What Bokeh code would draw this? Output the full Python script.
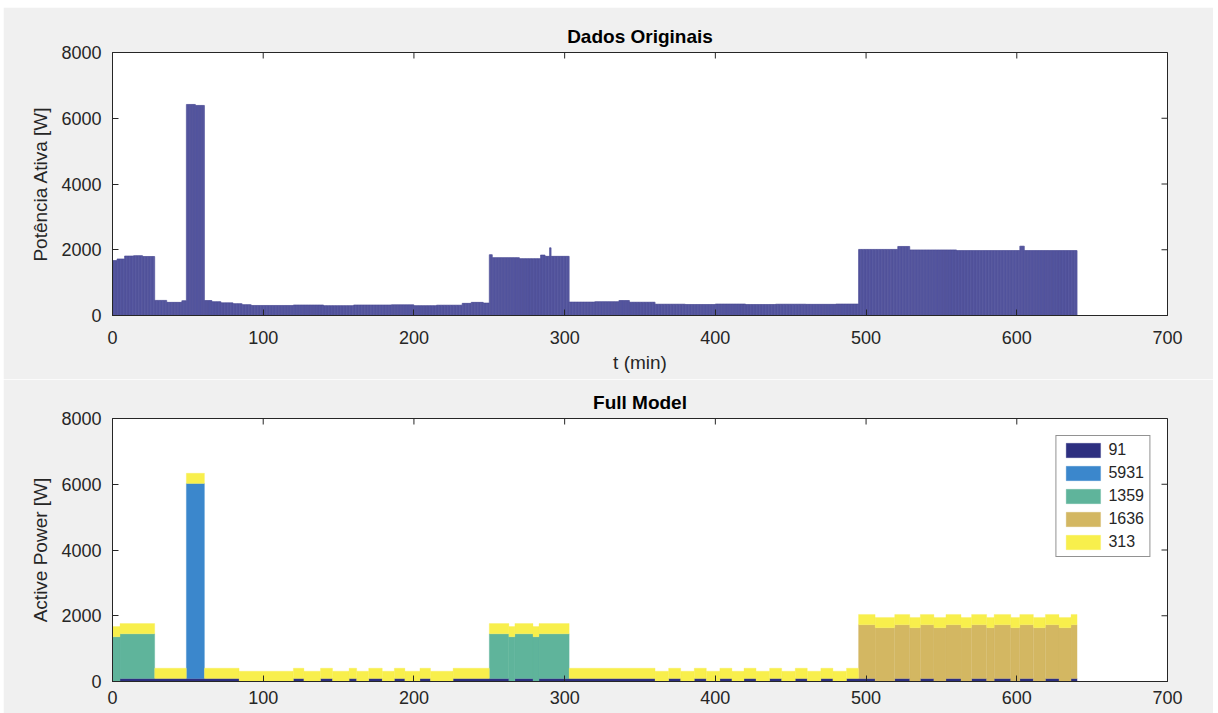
import numpy as np
from bokeh.plotting import figure
from bokeh.layouts import column
from bokeh.models import (FixedTicker, Legend, LegendItem, ColumnDataSource, Range1d)
from bokeh.embed import file_html
from bokeh.resources import INLINE

# ---------------- data ----------------
# Top chart: measured active power, read as constant runs (start min, end min, W)
top_seg_start = [0, 3, 8, 14, 20, 28, 36, 46, 49, 55, 61, 66, 72, 80, 86, 92, 120, 140, 160,
                 185, 200, 215, 232, 238, 246, 250, 252, 270, 284, 287, 290, 291, 303, 320,
                 336, 343, 360, 380, 400, 420, 440, 460, 480, 495, 521, 529, 560, 602, 605]
top_seg_end = [3, 8, 14, 20, 28, 36, 46, 49, 55, 61, 66, 72, 80, 86, 92, 120, 140, 160, 185,
               200, 215, 232, 238, 246, 250, 252, 270, 284, 287, 290, 291, 303, 320, 336,
               343, 360, 380, 400, 420, 440, 460, 480, 495, 521, 529, 560, 602, 605, 640]
top_seg_watts = [1670, 1720, 1810, 1820, 1795, 460, 400, 450, 6420, 6390, 455, 420, 385, 360,
                 330, 305, 320, 300, 320, 325, 300, 315, 370, 400, 380, 1850, 1760, 1730,
                 1840, 1800, 2060, 1800, 410, 420, 455, 405, 345, 335, 350, 335, 345, 340,
                 350, 2010, 2100, 1995, 1975, 2110, 1975]

# Bottom chart: appliance model (stack order bottom -> top)
appliance_labels = ["91", "5931", "1359", "1636", "313"]
appliance_power = [91, 5931, 1359, 1636, 313]
appliance_colors = ["#2d2f80", "#3b87cc", "#5fb49b", "#d3b762", "#f8ef4c"]
on_91 = [(5, 84), (120, 127), (138, 146), (157, 162), (170, 179), (187, 194), (204, 211),
         (226, 263), (267, 279), (283, 360), (369, 377), (386, 394), (403, 411), (419, 427),
         (436, 444), (453, 461), (470, 478), (487, 506), (519, 529), (536, 545), (553, 563),
         (570, 580), (585, 596), (602, 611), (619, 628), (636, 640)]
on_5931 = [(49, 61)]
on_1359 = [(0, 28), (250, 303)]
on_1636 = [(495, 640)]
on_313 = [(0, 640)]
appliance_on = [on_91, on_5931, on_1359, on_1636, on_313]

x_ticks = [0, 100, 200, 300, 400, 500, 600, 700]
y_ticks = [0, 2000, 4000, 6000, 8000]
X_MAX = 700
Y_MAX = 8000

N_MIN = 640
BG = "#f0f0f0"
TXT = "#262626"
FONT = "Liberation Sans"


def make_fig(height, b_top, b_bottom, title, xlabel, ylabel, x_standoff):
    p = figure(width=1210, height=height, x_range=Range1d(0, X_MAX), y_range=Range1d(0, Y_MAX),
               output_backend="svg", toolbar_location=None,
               min_border_left=109, min_border_right=46,
               min_border_top=b_top, min_border_bottom=b_bottom,
               background_fill_color="white", border_fill_color=BG,
               outline_line_color=TXT, outline_line_width=1)
    p.title.text = title
    p.title.align = "center"
    p.title.text_font = FONT
    p.title.text_font_size = "19px"
    p.title.text_font_style = "bold"
    p.title.text_color = "#000000"
    p.title.standoff = 12
    p.grid.visible = False
    p.xaxis.ticker = FixedTicker(ticks=x_ticks)
    p.yaxis.ticker = FixedTicker(ticks=y_ticks)
    for ax in list(p.xaxis) + list(p.yaxis):
        ax.major_tick_in = 6
        ax.major_tick_out = 0
        ax.minor_tick_line_color = None
        ax.axis_line_color = TXT
        ax.major_tick_line_color = TXT
        ax.major_label_text_font = FONT
        ax.major_label_text_font_size = "18px"
        ax.major_label_text_color = TXT
        ax.axis_label_text_font = FONT
        ax.axis_label_text_font_size = "19px"
        ax.axis_label_text_font_style = "normal"
        ax.axis_label_text_color = TXT
    p.xaxis.major_label_standoff = x_standoff
    p.yaxis.major_label_standoff = 11
    p.xaxis.axis_label_standoff = 5
    p.yaxis.axis_label_standoff = 7
    if xlabel:
        p.xaxis.axis_label = xlabel
    p.yaxis.axis_label = ylabel
    # mirrored inward ticks on the top and right edges (box on)
    p.scatter(x=x_ticks, y=[Y_MAX] * len(x_ticks), marker="dash", size=12, angle=np.pi / 2,
              line_color=TXT, line_width=1)
    p.scatter(x=[X_MAX] * len(y_ticks), y=y_ticks, marker="dash", size=12,
              line_color=TXT, line_width=1)
    return p


# ---------------- top chart ----------------
minutes = np.arange(N_MIN)
top_vals = np.zeros(N_MIN)
for s, e, w in zip(top_seg_start, top_seg_end, top_seg_watts):
    top_vals[s:e] = w

p1 = make_fig(372, 45, 64, "Dados Originais", "t (min)", "Potência Ativa [W]", 15)
p1.vbar(x=minutes + 0.5, top=top_vals, bottom=0, width=1.0,
        fill_color="#5c5ea6", line_color="#444590", line_width=0.6)

# ---------------- bottom chart ----------------
p2 = make_fig(334, 39, 32, "Full Model", None, "Active Power [W]", 9)

levels = []
for pw, ons in zip(appliance_power, appliance_on):
    lv = np.zeros(N_MIN)
    for s, e in ons:
        lv[s:e] = pw
    levels.append(lv)

base = np.zeros(N_MIN)
items = []
for lbl, lv, col in zip(appliance_labels, levels, appliance_colors):
    top = base + lv
    L, R, B, T = [], [], [], []
    i = 0
    while i < N_MIN:
        if lv[i] > 0:
            j = i
            while j + 1 < N_MIN and lv[j + 1] > 0 and base[j + 1] == base[i]:
                j += 1
            L.append(i); R.append(j + 1); B.append(base[i]); T.append(top[i])
            i = j + 1
        else:
            i += 1
    src = ColumnDataSource(dict(left=L, right=R, bottom=B, top=T))
    r = p2.quad(left="left", right="right", bottom="bottom", top="top", source=src,
                fill_color=col, line_color=col, line_width=0.3)
    items.append(LegendItem(label=lbl, renderers=[r]))
    base = top

legend = Legend(items=items, location="top_right", margin=17,
                glyph_width=43, glyph_height=18, label_height=18, spacing=5,
                padding=5, label_standoff=4, label_text_font=FONT,
                label_text_font_size="16px", label_text_color=TXT,
                border_line_color=TXT, border_line_width=1,
                background_fill_color="white", background_fill_alpha=1.0)
p2.add_layout(legend)

layout = column(p1, p2, spacing=0, margin=(7, 0, 0, 3))
open("out.html", "w").write(file_html(layout, INLINE))
